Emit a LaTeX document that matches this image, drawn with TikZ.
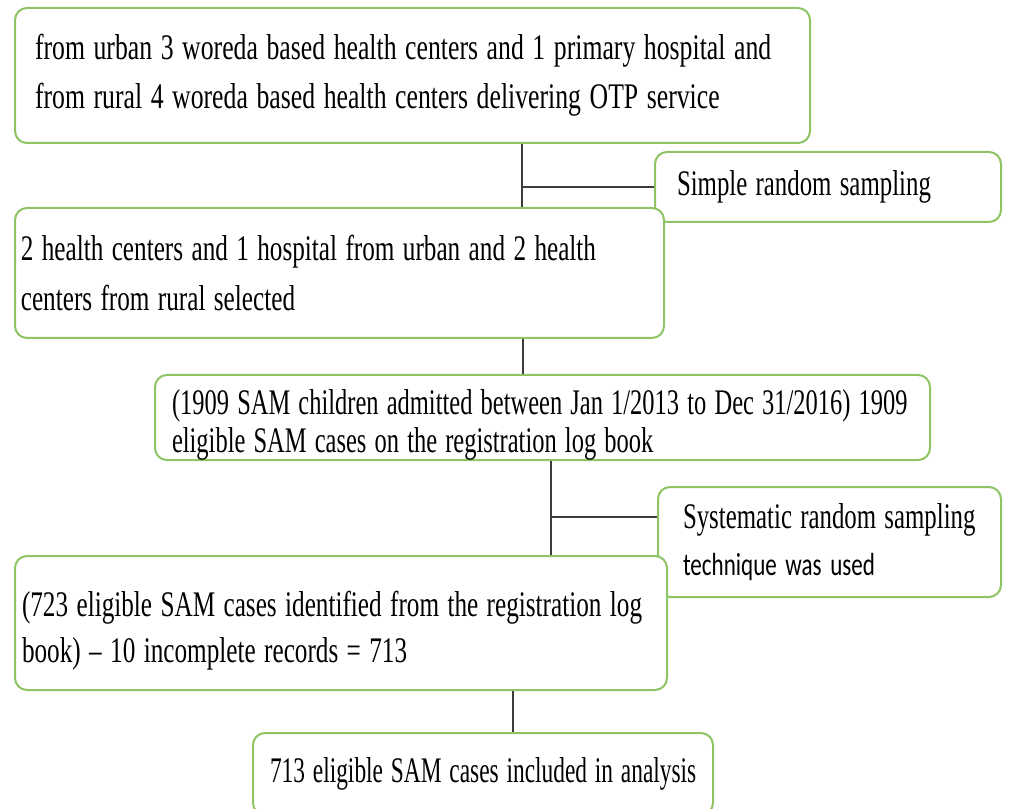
\documentclass[tikz,border=0pt]{standalone}
\usepackage{fontspec}
\usepackage{graphicx}
\setmainfont{Liberation Serif}
\newfontfamily\calfont{Carlito}
\newcommand{\sq}[2][0.69]{\scalebox{#1}[1]{#2}}
\newcommand{\topgap}[1]{\rule{0pt}{#1}}
\definecolor{boxgreen}{RGB}{142,196,100}
\definecolor{linegray}{RGB}{60,60,60}
\tikzset{
  flowbox/.style={draw=boxgreen, line width=1.5pt, rounded corners=9pt, fill=white,
    align=left, inner sep=0pt, font=\fontsize{27}{37}\selectfont},
  conn/.style={draw=linegray, line width=1.3pt}
}
\begin{document}
\begin{tikzpicture}[x=0.75pt,y=-0.75pt]
\useasboundingbox (0,0) rectangle (1014,809);
\clip (0,0) rectangle (1014,809);
% main boxes
\node[flowbox, minimum width=596.25pt, minimum height=101.25pt, text width=566.25pt] (b1) at (412.5,75.5)
  {\sq[0.715]{from urban 3 woreda based health centers and 1 primary hospital and}\\\sq[0.715]{from rural 4 woreda based health centers delivering OTP service}};
\node[flowbox, minimum width=259.5pt, minimum height=52.5pt, text width=226.5pt] (s1) at (828,187)
  {\sq{Simple random sampling}};
\node[flowbox, minimum width=486.75pt, minimum height=97.5pt, text width=478pt] (b2) at (339.5,273)
  {\sq[0.70]{2 health centers and 1 hospital from urban and 2 health}\\\sq[0.70]{centers from rural selected}};
\node[flowbox, minimum width=581.25pt, minimum height=63.75pt, text width=555.75pt,
      font=\fontsize{27}{28}\selectfont] (b3) at (542.5,417.5)
  {\topgap{30pt}\sq[0.68]{(1909 SAM children admitted between Jan 1/2013 to Dec 31/2016) 1909}\\\sq[0.68]{eligible SAM cases on the registration log book}};
\node[flowbox, minimum width=257.25pt, minimum height=82.5pt, text width=219.75pt,
      font=\fontsize{27}{35}\selectfont] (s2) at (829.5,542)
  {\sq{Systematic random sampling}\\\sq[0.72]{\calfont\fontsize{24}{35}\selectfont technique was used}};
\node[flowbox, minimum width=489pt, minimum height=100.5pt, text width=478.5pt,
      font=\fontsize{27}{34}\selectfont] (b4) at (341,623)
  {\topgap{30.6pt}\sq[0.70]{(723 eligible SAM cases identified from the registration log}\\\sq[0.70]{book) -- 10 incomplete records = 713}};
\node[flowbox, minimum width=345pt, minimum height=61.5pt, text width=319.5pt] (b5) at (483,774)
  {\sq[0.65]{713 eligible SAM cases included in analysis}};
% connectors
\coordinate (j1) at (522,187);
\coordinate (j2) at (551,517);
\draw[conn] (522,0 |- b1.south) -- (522,0 |- b2.north);
\draw[conn] (j1) -- (s1.west);
\draw[conn] (523,0 |- b2.south) -- (523,0 |- b3.north);
\draw[conn] (551,0 |- b3.south) -- (551,0 |- b4.north);
\draw[conn] (j2) -- (s2.west |- j2);
\draw[conn] (513,0 |- b4.south) -- (513,0 |- b5.north);
\end{tikzpicture}
\end{document}
